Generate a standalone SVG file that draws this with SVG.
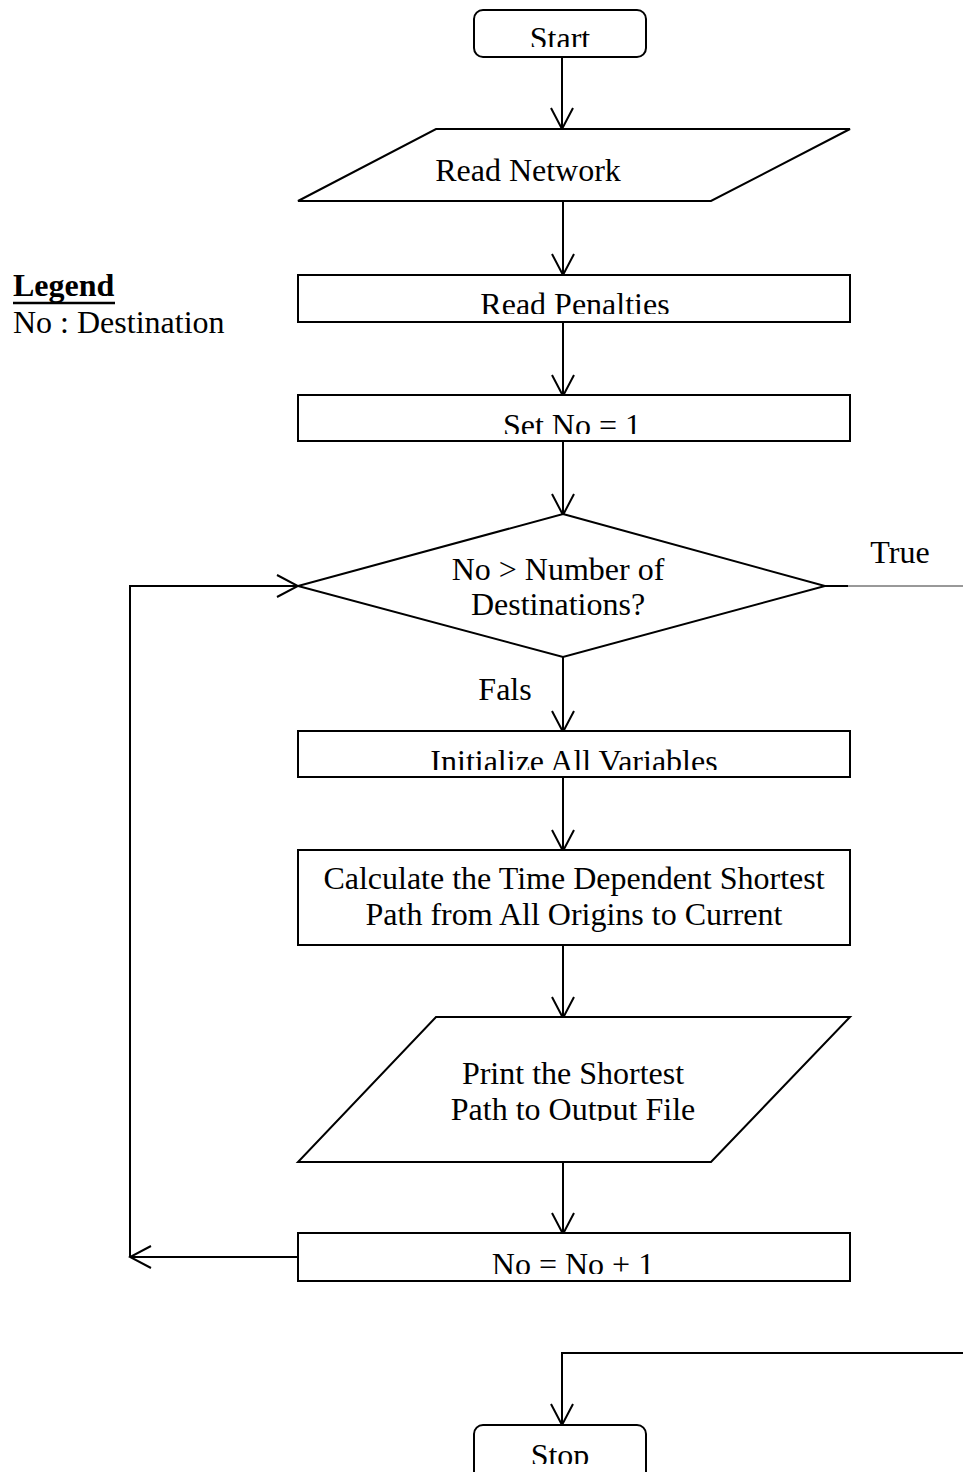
<svg xmlns="http://www.w3.org/2000/svg" width="963" height="1472" viewBox="0 0 963 1472">
  <style>
    .shape { fill: #ffffff; stroke: #000000; stroke-width: 2; }
    .wire { fill: none; stroke: #000000; stroke-width: 2; }
    .thin { fill: none; stroke: #333333; stroke-width: 1; }
    .lbl { font-family: "Liberation Serif", "Times New Roman", serif; font-size: 32px; fill: #000000; text-anchor: middle; }
    .left { text-anchor: start; }
  </style>
  <defs>
    <marker id="vee" viewBox="0 0 24 24" refX="22" refY="12" markerWidth="24" markerHeight="24" markerUnits="userSpaceOnUse" orient="auto">
      <path d="M1,1 L22,12 L1,23" fill="none" stroke="#000000" stroke-width="2"/>
    </marker>
    <!-- text frames cut off the bottom of their lines -->
    <clipPath id="clipStart"><rect x="474" y="10" width="172" height="37"/></clipPath>
    <clipPath id="clipPen"><rect x="298" y="274" width="552" height="40"/></clipPath>
    <clipPath id="clipSet"><rect x="298" y="395" width="552" height="39"/></clipPath>
    <clipPath id="clipInit"><rect x="298" y="731" width="552" height="39"/></clipPath>
    <clipPath id="clipPrint"><rect x="298" y="1017" width="552" height="104"/></clipPath>
    <clipPath id="clipInc"><rect x="298" y="1233" width="552" height="41"/></clipPath>
    <clipPath id="clipStop"><rect x="474" y="1425" width="172" height="39"/></clipPath>
  </defs>

  <!-- legend -->
  <g id="legend">
    <text class="lbl left" x="13" y="296" font-weight="bold">Legend</text>
    <line x1="13" y1="303" x2="115" y2="303" stroke="#000000" stroke-width="2.5"/>
    <text class="lbl left" x="13" y="333">No : Destination</text>
  </g>

  <!-- connectors -->
  <g id="connectors">
    <line class="wire" x1="562" y1="57" x2="562" y2="129" marker-end="url(#vee)"/>
    <line class="wire" x1="563" y1="201" x2="563" y2="275" marker-end="url(#vee)"/>
    <line class="wire" x1="563" y1="322" x2="563" y2="396" marker-end="url(#vee)"/>
    <line class="wire" x1="563" y1="441" x2="563" y2="515" marker-end="url(#vee)"/>
    <line class="wire" x1="563" y1="657" x2="563" y2="732" marker-end="url(#vee)"/>
    <line class="wire" x1="563" y1="777" x2="563" y2="851" marker-end="url(#vee)"/>
    <line class="wire" x1="563" y1="945" x2="563" y2="1018" marker-end="url(#vee)"/>
    <line class="wire" x1="563" y1="1162" x2="563" y2="1234" marker-end="url(#vee)"/>
    <!-- loop back to the decision -->
    <line class="wire" x1="298" y1="1257" x2="130" y2="1257" marker-end="url(#vee)"/>
    <polyline class="wire" points="130,1257 130,586 298,586" marker-end="url(#vee)"/>
    <!-- true branch leaves to the right -->
    <line class="wire" x1="825" y1="586" x2="848" y2="586"/>
    <line class="thin" x1="848" y1="586" x2="963" y2="586"/>
    <polyline class="wire" points="963,1353 562,1353 562,1425" marker-end="url(#vee)"/>
    <text class="lbl" x="900" y="563">True</text>
    <text class="lbl" x="505" y="700">Fals</text>
  </g>

  <g id="start">
    <rect class="shape" x="474" y="10" width="172" height="47" rx="9"/>
    <text class="lbl" x="560" y="49" clip-path="url(#clipStart)">Start</text>
  </g>

  <g id="read-network">
    <polygon class="shape" points="436,129 850,129 711,201 298,201"/>
    <text class="lbl" x="528" y="181">Read Network</text>
  </g>

  <g id="read-penalties">
    <rect class="shape" x="298" y="275" width="552" height="47"/>
    <text class="lbl" x="575" y="315" clip-path="url(#clipPen)">Read Penalties</text>
  </g>

  <g id="set-no">
    <rect class="shape" x="298" y="395" width="552" height="46"/>
    <text class="lbl" x="572" y="436" clip-path="url(#clipSet)">Set No = 1</text>
  </g>

  <g id="decision">
    <polygon class="shape" points="563,514 825,586 563,657 298,586"/>
    <text class="lbl" x="558" y="580">No &gt; Number of</text>
    <text class="lbl" x="558" y="615">Destinations?</text>
  </g>

  <g id="initialize">
    <rect class="shape" x="298" y="731" width="552" height="46"/>
    <text class="lbl" x="574" y="772" clip-path="url(#clipInit)">Initialize All Variables</text>
  </g>

  <g id="calculate">
    <rect class="shape" x="298" y="850" width="552" height="95"/>
    <text class="lbl" x="574" y="889">Calculate the Time Dependent Shortest</text>
    <text class="lbl" x="574" y="925">Path from All Origins to Current</text>
  </g>

  <g id="print">
    <polygon class="shape" points="436,1017 850,1017 711,1162 298,1162"/>
    <g clip-path="url(#clipPrint)">
      <text class="lbl" x="573" y="1084">Print the Shortest</text>
      <text class="lbl" x="573" y="1120">Path to Output File</text>
    </g>
  </g>

  <g id="increment">
    <rect class="shape" x="298" y="1233" width="552" height="48"/>
    <text class="lbl" x="573" y="1275" clip-path="url(#clipInc)">No = No + 1</text>
  </g>

  <g id="stop">
    <rect class="shape" x="474" y="1425" width="172" height="60" rx="9"/>
    <text class="lbl" x="560" y="1466" clip-path="url(#clipStop)">Stop</text>
  </g>
</svg>
